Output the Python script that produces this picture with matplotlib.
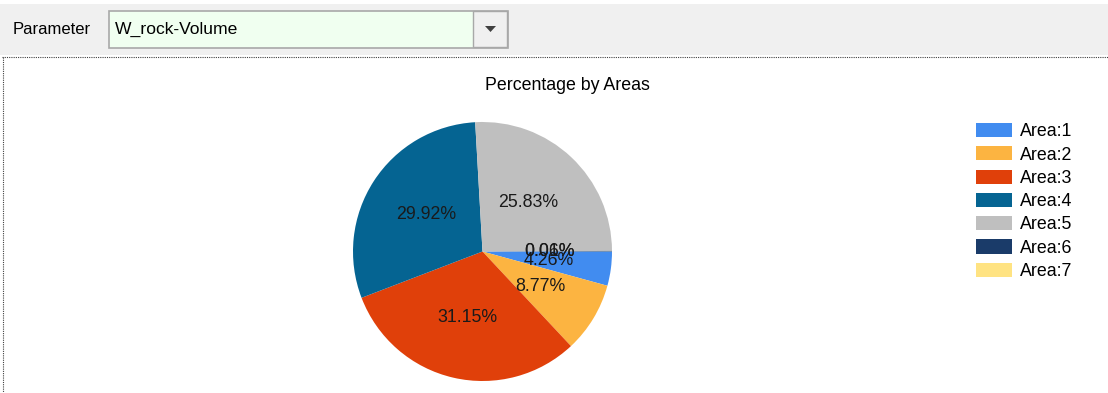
import matplotlib
matplotlib.use("Agg")
import matplotlib.pyplot as plt
from matplotlib.patches import Rectangle, Polygon, Patch

plt.rcParams['font.family'] = ['Liberation Sans', 'DejaVu Sans']

# ---- data ----
areas = ["Area:1", "Area:2", "Area:3", "Area:4", "Area:5", "Area:6", "Area:7"]
percent = [4.26, 8.77, 31.15, 29.92, 25.83, 0.06, 0.01]
colors = ["#418CF0", "#FCB441", "#E0400A", "#056492", "#BFBFBF", "#1A3B69", "#FFE382"]
title = "Percentage by Areas"
param_label = "Parameter"
param_value = "W_rock-Volume"

W, H = 1108, 393
DPI = 100
fig = plt.figure(figsize=(W / DPI, H / DPI), dpi=DPI, facecolor="white")

# background / UI layer in pixel coordinates
bg = fig.add_axes([0, 0, 1, 1])
bg.set_xlim(0, W)
bg.set_ylim(H, 0)
bg.axis("off")

# top grey panel
bg.add_patch(Rectangle((0, 4), W, 51, facecolor="#F0F0F0", edgecolor="none"))
bg.text(13, 29, param_label, fontsize=12, color="#000000", va="center", ha="left")
# combo box
bg.add_patch(Rectangle((108.5, 10.5), 399, 37, facecolor="#F0FFF0", edgecolor="#A8A8A8", linewidth=1.2))
bg.add_patch(Rectangle((473, 11), 34, 36, facecolor="#F0F0F0", edgecolor="#A8A8A8", linewidth=1.0))
bg.add_patch(Polygon([(485, 26), (496, 26), (490.5, 32)], closed=True, facecolor="#404040", edgecolor="none"))
bg.text(115, 29.5, param_value, fontsize=12.6, color="#000000", va="center", ha="left")

# dotted frame
bg.plot([2, W], [56.5, 56.5], color="#404040", linewidth=0.8, linestyle=(0, (1, 1)))
bg.plot([2.5, 2.5], [56.5, H], color="#404040", linewidth=0.8, linestyle=(0, (1, 1)))

# title
bg.text(567.5, 85, title, fontsize=12.8, color="#000000", ha="center", va="center")

# pie axes
cx, cy, r = 482.5, 251.5, 129.5
pax = fig.add_axes([(cx - r) / W, 1 - (cy + r) / H, 2 * r / W, 2 * r / H])
wedges, texts, autotexts = pax.pie(
    percent, colors=colors, startangle=0, counterclock=False,
    autopct="%.2f%%", pctdistance=0.52, radius=1.0,
    wedgeprops=dict(linewidth=0),
    textprops=dict(fontsize=12.8, color="#1a1a1a"),
)
pax.set_xlim(-1, 1)
pax.set_ylim(-1, 1)
pax.set_aspect("auto")
pax.axis("off")

# legend
handles = [Patch(facecolor=c, edgecolor="none") for c in colors]
fig.legend(handles, areas, loc="upper left",
           bbox_to_anchor=(976 / W, 1 - 123 / H), bbox_transform=fig.transFigure,
           frameon=False, fontsize=12.8, borderpad=0, borderaxespad=0,
           handlelength=2.0, handleheight=0.85, handletextpad=0.45,
           labelspacing=0.34)

fig.savefig("out.png", dpi=DPI, facecolor="white")
